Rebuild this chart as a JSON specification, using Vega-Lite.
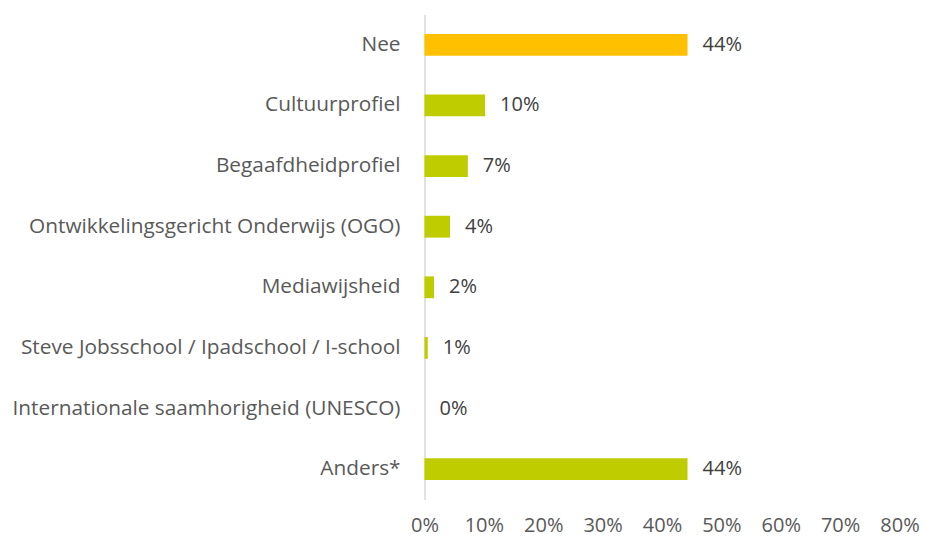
{
  "$schema": "https://vega.github.io/schema/vega-lite/v6.json",
  "width": 475,
  "height": 485,
  "autosize": {"type": "none"},
  "padding": {"left": 424.5, "top": 14.5, "right": 26.5, "bottom": 39.5},
  "background": "white",
  "config": {"view": {"stroke": null}, "font": "Open Sans"},
  "data": {"values": [
    {"category": "Nee", "value": 0.443, "group": "nee"},
    {"category": "Cultuurprofiel", "value": 0.102, "group": "ja"},
    {"category": "Begaafdheidprofiel", "value": 0.073, "group": "ja"},
    {"category": "Ontwikkelingsgericht Onderwijs (OGO)", "value": 0.043, "group": "ja"},
    {"category": "Mediawijsheid", "value": 0.016, "group": "ja"},
    {"category": "Steve Jobsschool / Ipadschool / I-school", "value": 0.0055, "group": "ja"},
    {"category": "Internationale saamhorigheid (UNESCO)", "value": 0, "group": "ja"},
    {"category": "Anders*", "value": 0.443, "group": "ja"}
  ]},
  "encoding": {
    "y": {"field": "category", "type": "nominal", "sort": null,
      "scale": {"paddingInner": 0.64, "paddingOuter": 0.32},
      "axis": {"title": null, "ticks": false, "domainColor": "#d9d9d9", "domainWidth": 1.5,
        "labelFontSize": 20.8, "labelColor": "#595959", "labelPadding": 24.5, "labelLimit": 430}},
    "x": {"field": "value", "type": "quantitative",
      "scale": {"domain": [0, 0.8], "nice": false},
      "axis": {"title": null, "domain": false, "ticks": false, "grid": false,
        "values": [0, 0.1, 0.2, 0.3, 0.4, 0.5, 0.6, 0.7, 0.8], "format": ".0%",
        "labelFontSize": 20, "labelColor": "#595959", "labelPadding": 16, "labelFlush": false}}
  },
  "layer": [
    {"mark": {"type": "bar"},
     "encoding": {"color": {"field": "group", "type": "nominal",
        "scale": {"domain": ["nee", "ja"], "range": ["#FFC000", "#BFCC00"]}, "legend": null}}},
    {"mark": {"type": "text", "align": "left", "baseline": "middle", "dx": 15, "fontSize": 20, "color": "#404040"},
     "encoding": {"text": {"field": "value", "type": "quantitative", "format": ".0%"}}}
  ]
}
